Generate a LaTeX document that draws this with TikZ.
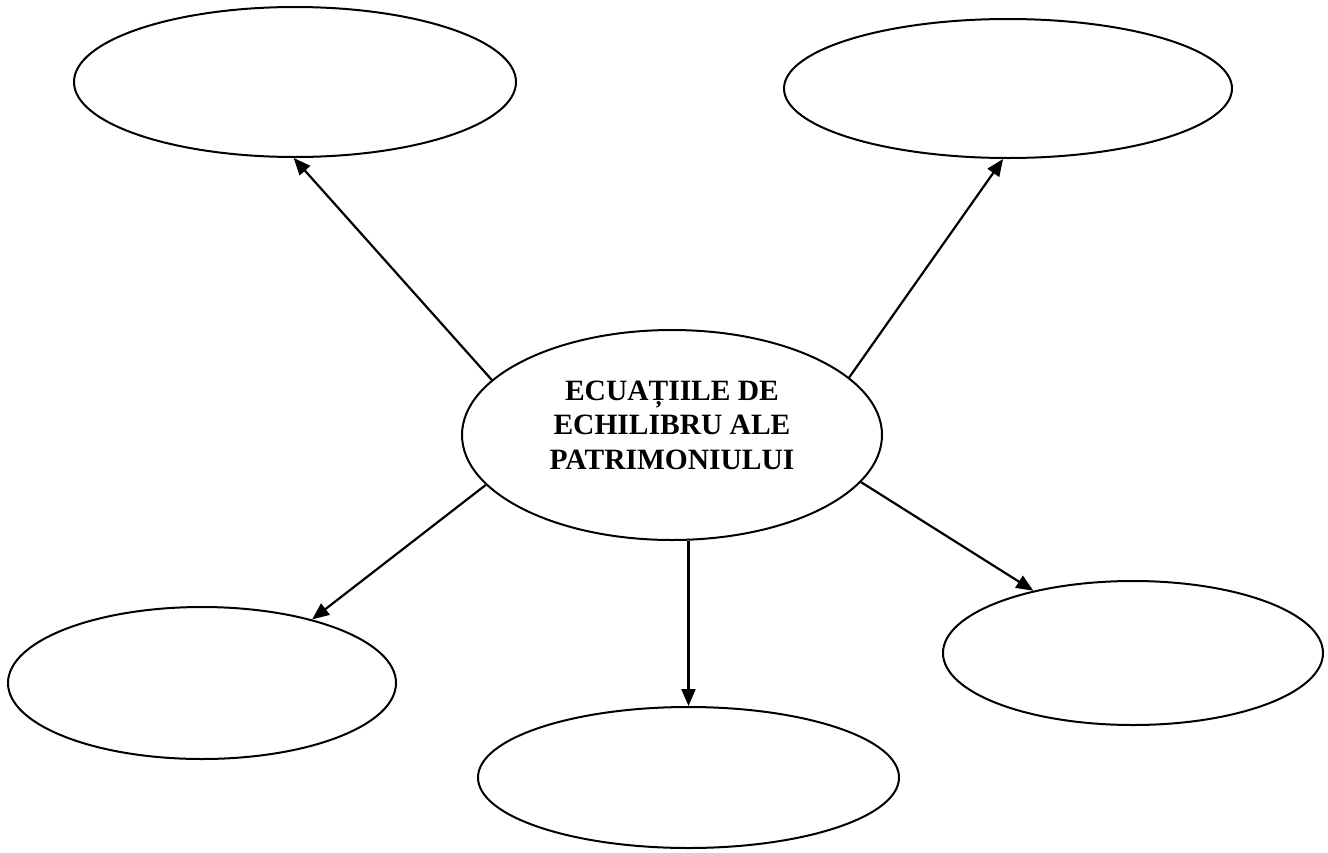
\documentclass[tikz,border=0pt]{standalone}
\usepackage{fontspec}
\setmainfont{Liberation Serif}
\usetikzlibrary{shapes.geometric,arrows.meta}
\tikzset{
  bubble/.style={draw, ellipse, line width=2pt, inner sep=0pt},
  link/.style={line width=2.2pt, -{Triangle[length=17pt,width=14pt]}}
}
\begin{document}
\begin{tikzpicture}[x=1pt,y=-1pt]
\useasboundingbox (0,0) rectangle (1328,852);
\node[bubble, minimum width=442pt, minimum height=150pt] (tl) at (295,82) {};
\node[bubble, minimum width=448pt, minimum height=139pt] (tr) at (1008,88.5) {};
\node[bubble, minimum width=388pt, minimum height=152pt] (bl) at (202,683) {};
\node[bubble, minimum width=421pt, minimum height=141pt] (bc) at (688.5,777.5) {};
\node[bubble, minimum width=380pt, minimum height=144pt] (br) at (1133,653) {};
\node[bubble, minimum width=420pt, minimum height=210pt,
  label={[yshift=10pt, align=center, font=\fontsize{29.5pt}{34.5pt}\selectfont\bfseries]center:ECUAȚIILE DE\\ECHILIBRU ALE\\PATRIMONIULUI}] (c) at (672,435) {};
\draw[link] (c.163) -- (tl.269);
\draw[link] (c.18) -- (tr.266.8);
\draw[link] (c.195) -- (bl.30.7);
\draw[link] (bc.north |- c.278.7) -- (bc.north);
\draw[link] (c.346) -- (br.148.7);
\end{tikzpicture}
\end{document}
